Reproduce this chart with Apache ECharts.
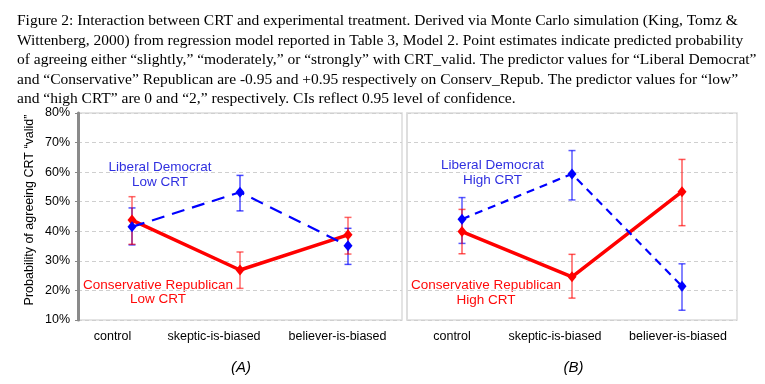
<!DOCTYPE html>
<html><head><meta charset="utf-8">
<script src="https://cdn.jsdelivr.net/npm/echarts@6/dist/echarts.min.js"></script>
<style>html,body{margin:0;padding:0;background:#fff}#c{width:765px;height:384px}</style>
</head><body><div id="c"></div>
<script>
const categories = ['control', 'skeptic-is-biased', 'believer-is-biased'];
const yMin = 10, yMax = 80, yStep = 10;
// Panel A (Low CRT)
const A_libDem = [41.5, 53.2, 35.1];
const A_libDemLo = [35.4, 46.9, 28.8];
const A_libDemHi = [47.9, 58.9, 41.0];
const A_conRep = [43.8, 26.9, 38.8];
const A_conRepLo = [35.6, 20.7, 32.3];
const A_conRepHi = [51.7, 33.0, 44.7];
// Panel B (High CRT)
const B_libDem = [44.1, 59.4, 21.4];
const B_libDemLo = [35.9, 50.6, 13.3];
const B_libDemHi = [51.4, 67.3, 29.0];
const B_conRep = [39.9, 24.6, 53.4];
const B_conRepLo = [32.4, 17.4, 41.9];
const B_conRepHi = [47.4, 32.2, 64.3];
const captionLines = [
  'Figure 2: Interaction between CRT and experimental treatment. Derived via Monte Carlo simulation (King, Tomz &',
  'Wittenberg, 2000) from regression model reported in Table 3, Model 2. Point estimates indicate predicted probability',
  'of agreeing either \u201cslightly,\u201d \u201cmoderately,\u201d or \u201cstrongly\u201d with CRT_valid. The predictor values for \u201cLiberal Democrat\u201d',
  'and \u201cConservative\u201d Republican are -0.95 and +0.95 respectively on Conserv_Repub. The predictor values for \u201clow\u201d',
  'and \u201chigh CRT\u201d are 0 and \u201c2,\u201d respectively. CIs reflect 0.95 level of confidence.'
];
const yTitle = 'Probability of agreeing CRT \u201cvalid\u201d';
const panelLabels = ['(A)', '(B)'];
const annA = [['Liberal Democrat', 'Low CRT'], ['Conservative Republican', 'Low CRT']];
const annB = [['Liberal Democrat', 'High CRT'], ['Conservative Republican', 'High CRT']];

// layout (not data)
const labelShiftA = [39, 52, 21];
const labelShiftB = [20, 34, 8];
const BLUE = '#0000ff', RED = '#ff0000';
const BLUE_T = '#3030e0', RED_T = '#ff0a0a';
const FONT = 'Liberation Sans, Arial, sans-serif';

function catData(shift) {
  return categories.map((c, i) => ({ value: c, textStyle: { padding: [0, shift[i], 0, 0] } }));
}
function errSeries(xi, yi, lo, hi, color, z) {
  return {
    type: 'custom', xAxisIndex: xi, yAxisIndex: yi, z: z,
    data: lo.map((l, i) => [i, l, hi[i]]),
    renderItem: function (params, api) {
      const p1 = api.coord([api.value(0), api.value(1)]);
      const p2 = api.coord([api.value(0), api.value(2)]);
      const w = 3.5;
      const st = { stroke: color, lineWidth: 1.5 };
      return { type: 'group', children: [
        { type: 'line', shape: { x1: p1[0], y1: p1[1], x2: p2[0], y2: p2[1] }, style: st },
        { type: 'line', shape: { x1: p1[0] - w, y1: p1[1], x2: p1[0] + w, y2: p1[1] }, style: st },
        { type: 'line', shape: { x1: p2[0] - w, y1: p2[1], x2: p2[0] + w, y2: p2[1] }, style: st }
      ]};
    }
  };
}
function lineSeries(xi, yi, data, color, width, type, z) {
  return {
    type: 'line', xAxisIndex: xi, yAxisIndex: yi, data: data, z: z,
    symbol: 'diamond', symbolSize: [9, 11], showSymbol: true,
    itemStyle: { color: color }, lineStyle: { color: color, width: width, type: type },
    animation: false
  };
}
function yAxisCfg(gi, showLabels, axisColor, axisWidth) {
  return {
    type: 'value', gridIndex: gi, min: yMin, max: yMax, interval: yStep,
    axisLine: { show: true, lineStyle: { color: axisColor, width: axisWidth } },
    axisTick: { show: showLabels, length: 3, lineStyle: { color: '#888' } },
    axisLabel: { show: showLabels, formatter: '{value}%', color: '#000', fontSize: 12.5, fontFamily: FONT, margin: 8 },
    splitLine: { show: true, lineStyle: { color: '#cfcfcf', type: [4, 3], width: 1 } }
  };
}
function xAxisCfg(gi, shift) {
  return {
    type: 'category', gridIndex: gi, data: catData(shift), boundaryGap: true,
    axisLine: { show: false }, axisTick: { show: false },
    axisLabel: { interval: 0, hideOverlap: false, color: '#000', fontSize: 12.5, fontFamily: FONT, margin: 10 }
  };
}
function annText(lines, cx, y1, y2, color) {
  return [
    { type: 'text', x: cx, y: y1, style: { text: lines[0], fill: color, font: '13.5px ' + FONT, textAlign: 'center', textVerticalAlign: 'middle' } },
    { type: 'text', x: cx, y: y2, style: { text: lines[1], fill: color, font: '13.5px ' + FONT, textAlign: 'center', textVerticalAlign: 'middle' } }
  ];
}

const graphics = [];
captionLines.forEach((t, i) => {
  graphics.push({ type: 'text', x: 17, y: 21 + i * 19.6,
    style: { text: t, fill: '#000', font: '15.5px Liberation Serif, Times New Roman, serif', textVerticalAlign: 'middle' } });
});
graphics.push({ type: 'text', x: 30, y: 210, rotation: Math.PI / 2,
  style: { text: yTitle, fill: '#000', font: '12.5px ' + FONT, textAlign: 'center', textVerticalAlign: 'middle' } });
graphics.push({ type: 'text', x: 241, y: 368, style: { text: panelLabels[0], fill: '#000', font: 'italic 15px ' + FONT, textAlign: 'center', textVerticalAlign: 'middle' } });
graphics.push({ type: 'text', x: 573.5, y: 368, style: { text: panelLabels[1], fill: '#000', font: 'italic 15px ' + FONT, textAlign: 'center', textVerticalAlign: 'middle' } });
annText(annA[0], 160, 167.5, 182, BLUE_T).forEach(g => graphics.push(g));
annText(annA[1], 158, 285, 299, RED_T).forEach(g => graphics.push(g));
annText(annB[0], 492.5, 165, 180, BLUE_T).forEach(g => graphics.push(g));
annText(annB[1], 486, 285, 300, RED_T).forEach(g => graphics.push(g));

const chart = echarts.init(document.getElementById('c'), null, { renderer: 'canvas' });
chart.setOption({
  animation: false,
  backgroundColor: '#fff',
  grid: [
    { left: 78, top: 113, width: 324, height: 207, show: true, borderColor: '#dcdcdc', borderWidth: 1.5, backgroundColor: 'transparent' },
    { left: 407, top: 113, width: 330, height: 207, show: true, borderColor: '#dcdcdc', borderWidth: 1.5, backgroundColor: 'transparent' }
  ],
  xAxis: [xAxisCfg(0, labelShiftA), xAxisCfg(1, labelShiftB)],
  yAxis: [yAxisCfg(0, true, '#8a8a8a', 3), yAxisCfg(1, false, '#dcdcdc', 1.5)],
  graphic: graphics,
  series: [
    errSeries(0, 0, A_libDemLo, A_libDemHi, 'rgba(0,0,255,0.7)', 2),
    errSeries(0, 0, A_conRepLo, A_conRepHi, 'rgba(255,0,0,0.6)', 2),
    lineSeries(0, 0, A_conRep, RED, 3.5, 'solid', 3),
    lineSeries(0, 0, A_libDem, BLUE, 2.2, [13, 8], 4),
    errSeries(1, 1, B_libDemLo, B_libDemHi, 'rgba(0,0,255,0.65)', 2),
    errSeries(1, 1, B_conRepLo, B_conRepHi, 'rgba(255,0,0,0.65)', 2),
    lineSeries(1, 1, B_conRep, RED, 3.5, 'solid', 3),
    lineSeries(1, 1, B_libDem, BLUE, 2.2, [8, 6], 4)
  ]
});
</script></body></html>
